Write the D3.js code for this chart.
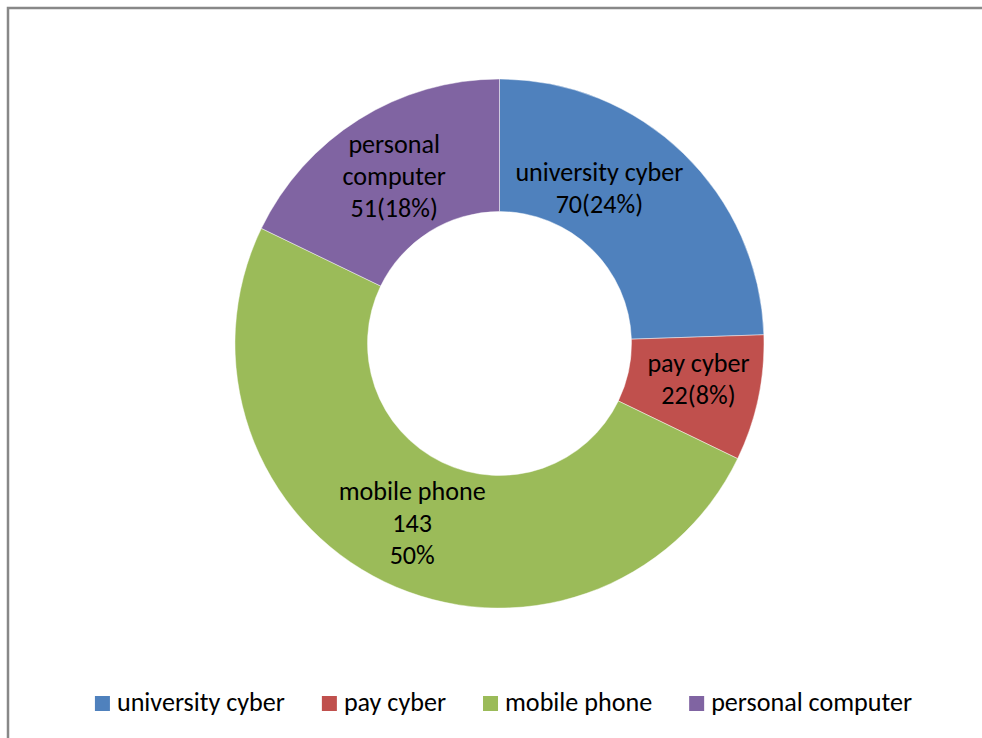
<!DOCTYPE html>
<html>
<head>
<meta charset="utf-8">
<script src="https://cdn.jsdelivr.net/npm/d3@7"></script>
<style>
  html, body { margin: 0; padding: 0; background: #fff; }
  svg { display: block; }
</style>
</head>
<body>
<svg id="chart" width="982" height="738"></svg>
<script>
// Access points used by respondents
const categories = ["university cyber", "pay cyber", "mobile phone", "personal computer"];
const values = [70, 22, 143, 51];
const colors = ["#4F81BD", "#C0504D", "#9BBB59", "#8064A2"];
// How each data label is broken into lines ("name", "value", "pct" tokens)
const labelLines = [
  ["name", "value(pct)"],
  ["name", "value(pct)"],
  ["name", "value", "pct"],
  ["personal", "computer", "value(pct)"]
];
// Label nudge from the slice centroid (first baseline)
const labelOffsets = [[-38, -20], [5, -13], [-1, -22], [0, -23]];

const W = 982, H = 738;
const cx = 499.5, cy = 343.5, rOuter = 264.5, rInner = 132;
const fontFamily = "Carlito, Calibri, Lato, 'Open Sans', sans-serif";
const lineH = 32;

const svg = d3.select("#chart");

// Chart frame (right and bottom edges fall outside the view)
svg.append("path")
  .attr("d", `M8,${H + 10} L8,8 L${W + 10},8`)
  .attr("fill", "none")
  .attr("stroke", "#888")
  .attr("stroke-width", 2.5);

// Pick a font size so text widths match the target metrics
const probe = svg.append("text").attr("font-family", fontFamily).attr("font-size", 24).text("university cyber");
const probeW = probe.node().getComputedTextLength();
probe.remove();
const fontSize = 24 * 168 / probeW;

const total = d3.sum(values);
const data = categories.map((c, i) => ({ name: c, value: values[i], color: colors[i], lines: labelLines[i], off: labelOffsets[i] }));

const pie = d3.pie().sort(null).value(d => d.value).startAngle(0).endAngle(2 * Math.PI);
const arc = d3.arc().innerRadius(rInner).outerRadius(rOuter);

const g = svg.append("g").attr("transform", `translate(${cx},${cy})`);
const arcs = pie(data);

g.selectAll("path.slice")
  .data(arcs)
  .join("path")
  .attr("class", "slice")
  .attr("d", arc)
  .attr("fill", d => d.data.color)
  .attr("stroke", "#fff")
  .attr("stroke-width", 0.75)
  .attr("stroke-opacity", 0.6);

const fmtLine = (tpl, d) => {
  const pct = Math.round(d.value / total * 100) + "%";
  if (tpl === "name") return d.name;
  return tpl.replace("value", d.value).replace("pct", pct);
};

const labels = g.selectAll("text.lbl")
  .data(arcs)
  .join("text")
  .attr("class", "lbl")
  .attr("font-family", fontFamily)
  .attr("font-size", fontSize)
  .attr("fill", "#000")
  .attr("text-anchor", "middle")
  .attr("transform", d => {
    const [x, y] = arc.centroid(d);
    return `translate(${x + d.data.off[0]},${y + d.data.off[1]})`;
  });

labels.selectAll("tspan")
  .data(d => d.data.lines.map((t, i) => ({ text: fmtLine(t, d.data), i })))
  .join("tspan")
  .attr("x", 0)
  .attr("y", d => d.i * lineH)
  .text(d => d.text);

// Legend along the bottom
const legend = svg.append("g");
const sw = 15, gapText = 7, gapItem = 37;
const items = legend.selectAll("g.item").data(data).join("g").attr("class", "item");
items.append("rect")
  .attr("width", sw).attr("height", sw)
  .attr("y", 696)
  .attr("fill", d => d.color);
items.append("text")
  .attr("font-family", fontFamily)
  .attr("font-size", fontSize)
  .attr("y", 711)
  .attr("fill", "#000")
  .text(d => d.name);

const widths = [];
items.each(function () { widths.push(d3.select(this).select("text").node().getComputedTextLength()); });
const totalW = d3.sum(widths, w => sw + gapText + w) + gapItem * (widths.length - 1);
let x0 = 503.5 - totalW / 2;
items.each(function (d, i) {
  const it = d3.select(this);
  it.select("rect").attr("x", x0);
  it.select("text").attr("x", x0 + sw + gapText);
  x0 += sw + gapText + widths[i] + gapItem;
});
</script>
</body>
</html>
